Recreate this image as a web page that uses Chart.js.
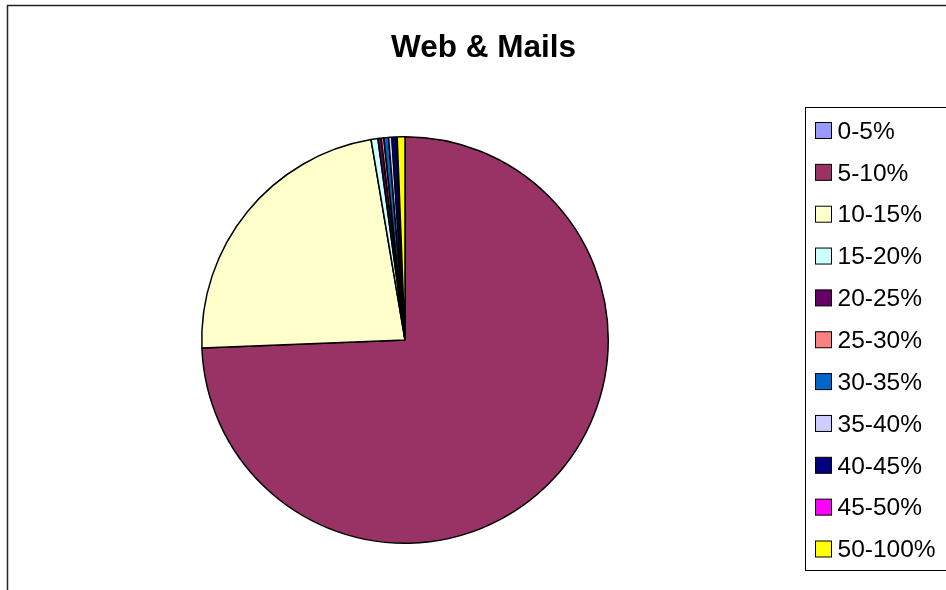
<!DOCTYPE html>
<html>
<head>
<meta charset="utf-8">
<script src="https://cdn.jsdelivr.net/npm/chart.js@4/dist/chart.umd.min.js"></script>
<style>
  html, body { margin: 0; padding: 0; background: #fff; }
  #wrap { width: 946px; height: 590px; position: relative; }
</style>
</head>
<body>
<div id="wrap"><canvas id="c" width="946" height="590"></canvas></div>
<script>
const chartTitle = 'Web & Mails';
const categories = ['0-5%', '5-10%', '10-15%', '15-20%', '20-25%', '25-30%', '30-35%', '35-40%', '40-45%', '45-50%', '50-100%'];
const shares = [0, 74.36, 22.96, 0.54, 0.26, 0.21, 0.37, 0.26, 0.34, 0.08, 0.61];
const sliceColors = ['#9999FF', '#993366', '#FFFFCC', '#CCFFFF', '#660066', '#FF8080', '#0066CC', '#CCCCFF', '#000080', '#FF00FF', '#FFFF00'];

// frame, title and boxed legend drawn around the pie
const decorations = {
    id: 'decorations',
    afterDraw(chart) {
        const ctx = chart.ctx;
        ctx.save();
        // outer chart border (runs off right and bottom)
        ctx.strokeStyle = '#222';
        ctx.lineWidth = 1.5;
        ctx.strokeRect(7.5, 5.5, 960, 620);

        // title
        ctx.fillStyle = '#000';
        ctx.font = 'bold 31.5px "Liberation Sans", Arial, sans-serif';
        ctx.textAlign = 'center';
        ctx.textBaseline = 'alphabetic';
        ctx.fillText(chartTitle, 483.5, 57);

        // legend box
        ctx.strokeStyle = '#000';
        ctx.lineWidth = 1;
        ctx.strokeRect(805.5, 107.5, 200, 463);

        ctx.font = '24.5px "Liberation Sans", Arial, sans-serif';
        ctx.textAlign = 'left';
        ctx.textBaseline = 'middle';
        categories.forEach(function(label, i) {
            const y = 131 + i * 41.85;
            ctx.fillStyle = sliceColors[i];
            ctx.fillRect(815.5, y - 8.5, 16, 16);
            ctx.strokeStyle = '#000';
            ctx.strokeRect(815.5, y - 8.5, 16, 16);
            ctx.fillStyle = '#000';
            ctx.fillText(label, 837.5, y + 1);
        });
        ctx.restore();
    }
};

new Chart(document.getElementById('c'), {
    type: 'pie',
    data: {
        labels: categories,
        datasets: [{
            data: shares,
            backgroundColor: sliceColors,
            borderColor: '#000',
            borderWidth: 1.5
        }]
    },
    options: {
        responsive: false,
        animation: false,
        layout: {
            padding: { left: 201, right: 337, top: 135, bottom: 45 }
        },
        plugins: {
            legend: { display: false },
            title: { display: false },
            tooltip: { enabled: false }
        }
    },
    plugins: [decorations]
});
</script>
</body>
</html>
